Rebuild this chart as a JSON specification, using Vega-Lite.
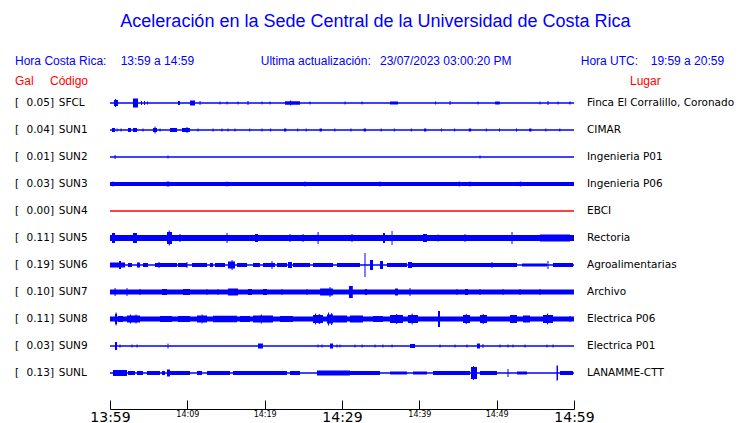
{
"$schema": "https://vega.github.io/schema/vega-lite/v6.json",
"width": 464, "height": 342,
"autosize": {"type": "none"},
"padding": {"left": 110, "top": 67, "right": 166, "bottom": 14},
"background": "white",
"config": {"view": {"stroke": null}, "axisY": {"disable": true}},
"datasets": {
"stations": [
{"code":"SFCL","n":0,"gal":0.05,"place":"Finca El Corralillo, Coronado"},
{"code":"SUN1","n":1,"gal":0.04,"place":"CIMAR"},
{"code":"SUN2","n":2,"gal":0.01,"place":"Ingenieria P01"},
{"code":"SUN3","n":3,"gal":0.03,"place":"Ingenieria P06"},
{"code":"SUN4","n":4,"gal":0.00,"place":"EBCI"},
{"code":"SUN5","n":5,"gal":0.11,"place":"Rectoria"},
{"code":"SUN6","n":6,"gal":0.19,"place":"Agroalimentarias"},
{"code":"SUN7","n":7,"gal":0.10,"place":"Archivo"},
{"code":"SUN8","n":8,"gal":0.11,"place":"Electrica P06"},
{"code":"SUN9","n":9,"gal":0.03,"place":"Electrica P01"},
{"code":"SUNL","n":10,"gal":0.13,"place":"LANAMME-CTT"}
],
"traces": [
{"s":"SFCL","t0":0,"t1":60,"a":1.5},
{"s":"SFCL","t0":0.52,"t1":1.03,"a":6},
{"s":"SFCL","t0":0.66,"t1":0.8,"a":8},
{"s":"SFCL","t0":2.97,"t1":3.62,"a":9},
{"s":"SFCL","t0":4.01,"t1":4.14,"a":4},
{"s":"SFCL","t0":4.4,"t1":4.53,"a":4},
{"s":"SFCL","t0":4.78,"t1":4.91,"a":3},
{"s":"SFCL","t0":8.79,"t1":9.05,"a":4},
{"s":"SFCL","t0":10.34,"t1":10.99,"a":5},
{"s":"SFCL","t0":11.58,"t1":11.7,"a":4},
{"s":"SFCL","t0":14.16,"t1":14.29,"a":3},
{"s":"SFCL","t0":15.07,"t1":15.2,"a":3},
{"s":"SFCL","t0":16.49,"t1":16.62,"a":3},
{"s":"SFCL","t0":17.78,"t1":17.91,"a":4},
{"s":"SFCL","t0":19.6,"t1":19.72,"a":3},
{"s":"SFCL","t0":20.63,"t1":20.75,"a":3},
{"s":"SFCL","t0":22.63,"t1":24.57,"a":3.5},
{"s":"SFCL","t0":23.3,"t1":23.43,"a":5},
{"s":"SFCL","t0":25.8,"t1":25.93,"a":3},
{"s":"SFCL","t0":30.33,"t1":30.46,"a":3},
{"s":"SFCL","t0":32.53,"t1":32.66,"a":3},
{"s":"SFCL","t0":36.21,"t1":37.24,"a":3},
{"s":"SFCL","t0":42.03,"t1":42.16,"a":3},
{"s":"SFCL","t0":43.91,"t1":44.03,"a":4},
{"s":"SFCL","t0":47.52,"t1":47.65,"a":3},
{"s":"SFCL","t0":49.8,"t1":50.4,"a":3},
{"s":"SFCL","t0":55.54,"t1":55.67,"a":3},
{"s":"SFCL","t0":56.57,"t1":56.7,"a":4},
{"s":"SFCL","t0":57.87,"t1":58.0,"a":3},
{"s":"SFCL","t0":59.4,"t1":59.55,"a":3},
{"s":"SUN1","t0":0,"t1":60,"a":1.5},
{"s":"SUN1","t0":0.26,"t1":0.65,"a":4},
{"s":"SUN1","t0":0.85,"t1":0.97,"a":3},
{"s":"SUN1","t0":1.36,"t1":1.49,"a":3},
{"s":"SUN1","t0":2.33,"t1":2.72,"a":4},
{"s":"SUN1","t0":2.97,"t1":3.49,"a":4},
{"s":"SUN1","t0":4.21,"t1":4.34,"a":3},
{"s":"SUN1","t0":5.56,"t1":6.08,"a":4},
{"s":"SUN1","t0":5.76,"t1":5.89,"a":7},
{"s":"SUN1","t0":6.41,"t1":6.53,"a":3},
{"s":"SUN1","t0":7.76,"t1":8.66,"a":4},
{"s":"SUN1","t0":9.31,"t1":10.34,"a":4},
{"s":"SUN1","t0":9.9,"t1":10.02,"a":6},
{"s":"SUN1","t0":11.32,"t1":11.45,"a":3},
{"s":"SUN1","t0":13.26,"t1":13.39,"a":3},
{"s":"SUN1","t0":14.41,"t1":14.54,"a":3},
{"s":"SUN1","t0":15.2,"t1":15.33,"a":3},
{"s":"SUN1","t0":16.1,"t1":16.23,"a":3},
{"s":"SUN1","t0":18.0,"t1":18.13,"a":3},
{"s":"SUN1","t0":19.6,"t1":19.73,"a":3},
{"s":"SUN1","t0":20.7,"t1":20.83,"a":3},
{"s":"SUN1","t0":22.5,"t1":22.8,"a":3},
{"s":"SUN1","t0":24.2,"t1":24.33,"a":3},
{"s":"SUN1","t0":25.3,"t1":25.43,"a":3},
{"s":"SUN1","t0":27.1,"t1":27.4,"a":3},
{"s":"SUN1","t0":29.0,"t1":29.13,"a":3},
{"s":"SUN1","t0":31.1,"t1":31.23,"a":3},
{"s":"SUN1","t0":32.8,"t1":33.1,"a":3},
{"s":"SUN1","t0":35.0,"t1":35.13,"a":3},
{"s":"SUN1","t0":36.7,"t1":36.83,"a":3},
{"s":"SUN1","t0":38.9,"t1":39.03,"a":3},
{"s":"SUN1","t0":40.6,"t1":40.9,"a":3},
{"s":"SUN1","t0":42.8,"t1":42.93,"a":3},
{"s":"SUN1","t0":44.5,"t1":44.63,"a":3},
{"s":"SUN1","t0":46.4,"t1":46.7,"a":3},
{"s":"SUN1","t0":48.6,"t1":48.73,"a":3},
{"s":"SUN1","t0":50.3,"t1":50.43,"a":3},
{"s":"SUN1","t0":52.5,"t1":52.63,"a":3},
{"s":"SUN1","t0":54.2,"t1":54.5,"a":3},
{"s":"SUN1","t0":56.3,"t1":56.43,"a":3},
{"s":"SUN1","t0":58.1,"t1":58.23,"a":3},
{"s":"SUN2","t0":0,"t1":60,"a":1.3},
{"s":"SUN2","t0":0.59,"t1":0.72,"a":4},
{"s":"SUN2","t0":7.44,"t1":7.56,"a":3},
{"s":"SUN2","t0":47.78,"t1":47.91,"a":3},
{"s":"SUN3","t0":0,"t1":60,"a":4},
{"s":"SUN3","t0":0.33,"t1":0.46,"a":5},
{"s":"SUN3","t0":7.44,"t1":7.56,"a":6},
{"s":"SUN3","t0":15.07,"t1":15.2,"a":5},
{"s":"SUN3","t0":25.16,"t1":25.29,"a":5},
{"s":"SUN3","t0":34.85,"t1":34.98,"a":5},
{"s":"SUN3","t0":45.1,"t1":45.23,"a":5},
{"s":"SUN3","t0":46.5,"t1":46.63,"a":5},
{"s":"SUN3","t0":53.0,"t1":53.13,"a":5},
{"s":"SUN4","t0":0,"t1":60,"a":1.3},
{"s":"SUN5","t0":0,"t1":60,"a":6},
{"s":"SUN5","t0":0.26,"t1":0.65,"a":10},
{"s":"SUN5","t0":2.97,"t1":3.49,"a":10},
{"s":"SUN5","t0":7.37,"t1":8.02,"a":12},
{"s":"SUN5","t0":7.6,"t1":7.73,"a":15},
{"s":"SUN5","t0":8.99,"t1":9.12,"a":8},
{"s":"SUN5","t0":15.07,"t1":15.2,"a":10},
{"s":"SUN5","t0":18.75,"t1":19.14,"a":8},
{"s":"SUN5","t0":23.22,"t1":23.34,"a":8},
{"s":"SUN5","t0":24.9,"t1":25.03,"a":8},
{"s":"SUN5","t0":26.84,"t1":26.97,"a":12},
{"s":"SUN5","t0":31.23,"t1":31.36,"a":8},
{"s":"SUN5","t0":35.3,"t1":35.56,"a":10},
{"s":"SUN5","t0":36.41,"t1":36.53,"a":14},
{"s":"SUN5","t0":40.47,"t1":40.99,"a":8},
{"s":"SUN5","t0":42.35,"t1":42.48,"a":7},
{"s":"SUN5","t0":45.85,"t1":45.97,"a":8},
{"s":"SUN5","t0":51.92,"t1":52.05,"a":12},
{"s":"SUN5","t0":55.6,"t1":59.5,"a":7},
{"s":"SUN6","t0":0,"t1":60,"a":1.5},
{"s":"SUN6","t0":0,"t1":1.94,"a":5},
{"s":"SUN6","t0":1.16,"t1":1.42,"a":8},
{"s":"SUN6","t0":2.33,"t1":2.84,"a":4},
{"s":"SUN6","t0":3.49,"t1":3.88,"a":5},
{"s":"SUN6","t0":4.27,"t1":4.91,"a":4},
{"s":"SUN6","t0":5.82,"t1":8.66,"a":4},
{"s":"SUN6","t0":6.28,"t1":6.41,"a":6},
{"s":"SUN6","t0":8.79,"t1":9.96,"a":4},
{"s":"SUN6","t0":9.9,"t1":10.02,"a":6},
{"s":"SUN6","t0":10.6,"t1":12.54,"a":4},
{"s":"SUN6","t0":12.93,"t1":13.32,"a":4},
{"s":"SUN6","t0":13.58,"t1":14.87,"a":4},
{"s":"SUN6","t0":15.26,"t1":16.16,"a":7},
{"s":"SUN6","t0":15.72,"t1":15.85,"a":10},
{"s":"SUN6","t0":16.42,"t1":17.72,"a":4},
{"s":"SUN6","t0":18.49,"t1":19.4,"a":4},
{"s":"SUN6","t0":19.78,"t1":21.34,"a":4},
{"s":"SUN6","t0":20.89,"t1":21.01,"a":8},
{"s":"SUN6","t0":21.59,"t1":22.89,"a":4},
{"s":"SUN6","t0":23.02,"t1":23.53,"a":6},
{"s":"SUN6","t0":23.66,"t1":25.86,"a":4},
{"s":"SUN6","t0":26.25,"t1":28.84,"a":4},
{"s":"SUN6","t0":29.35,"t1":32.33,"a":4},
{"s":"SUN6","t0":32.91,"t1":33.04,"a":24},
{"s":"SUN6","t0":33.62,"t1":34.01,"a":10},
{"s":"SUN6","t0":34.91,"t1":35.3,"a":8},
{"s":"SUN6","t0":35.82,"t1":38.4,"a":4},
{"s":"SUN6","t0":38.53,"t1":39.05,"a":6},
{"s":"SUN6","t0":39.05,"t1":48.75,"a":4},
{"s":"SUN6","t0":49.34,"t1":49.46,"a":6},
{"s":"SUN6","t0":48.75,"t1":52.63,"a":4},
{"s":"SUN6","t0":53.28,"t1":56.51,"a":3},
{"s":"SUN6","t0":56.57,"t1":56.7,"a":8},
{"s":"SUN6","t0":57.28,"t1":59.87,"a":4},
{"s":"SUN7","t0":0,"t1":60,"a":5},
{"s":"SUN7","t0":0.59,"t1":0.72,"a":8},
{"s":"SUN7","t0":2.14,"t1":2.26,"a":8},
{"s":"SUN7","t0":3.82,"t1":3.95,"a":6},
{"s":"SUN7","t0":6.72,"t1":7.37,"a":6},
{"s":"SUN7","t0":9.44,"t1":10.34,"a":6},
{"s":"SUN7","t0":12.48,"t1":12.6,"a":6},
{"s":"SUN7","t0":13.91,"t1":14.03,"a":6},
{"s":"SUN7","t0":15.26,"t1":16.55,"a":7},
{"s":"SUN7","t0":17.84,"t1":18.36,"a":6},
{"s":"SUN7","t0":19.78,"t1":20.3,"a":6},
{"s":"SUN7","t0":22.18,"t1":22.3,"a":6},
{"s":"SUN7","t0":25.41,"t1":25.54,"a":6},
{"s":"SUN7","t0":27.16,"t1":28.84,"a":7},
{"s":"SUN7","t0":28.39,"t1":28.52,"a":10},
{"s":"SUN7","t0":30.9,"t1":31.4,"a":12},
{"s":"SUN7","t0":32.97,"t1":33.23,"a":6},
{"s":"SUN7","t0":36.85,"t1":37.24,"a":7},
{"s":"SUN7","t0":38.73,"t1":38.86,"a":8},
{"s":"SUN7","t0":44.81,"t1":44.93,"a":6},
{"s":"SUN7","t0":45.91,"t1":46.29,"a":6},
{"s":"SUN7","t0":47.78,"t1":47.91,"a":6},
{"s":"SUN7","t0":50.76,"t1":50.89,"a":6},
{"s":"SUN7","t0":52.96,"t1":53.08,"a":6},
{"s":"SUN7","t0":55.54,"t1":55.67,"a":6},
{"s":"SUN8","t0":0,"t1":60,"a":5},
{"s":"SUN8","t0":0.65,"t1":0.91,"a":10},
{"s":"SUN8","t0":0.72,"t1":0.85,"a":13},
{"s":"SUN8","t0":1.03,"t1":1.68,"a":6},
{"s":"SUN8","t0":2.2,"t1":3.88,"a":7},
{"s":"SUN8","t0":2.6,"t1":2.73,"a":9},
{"s":"SUN8","t0":3.3,"t1":3.43,"a":9},
{"s":"SUN8","t0":6.47,"t1":8.02,"a":6},
{"s":"SUN8","t0":8.79,"t1":10.34,"a":6},
{"s":"SUN8","t0":11.25,"t1":12.54,"a":7},
{"s":"SUN8","t0":11.84,"t1":11.97,"a":9},
{"s":"SUN8","t0":13.32,"t1":16.42,"a":6.5},
{"s":"SUN8","t0":16.81,"t1":18.1,"a":6},
{"s":"SUN8","t0":18.49,"t1":21.08,"a":7},
{"s":"SUN8","t0":19.5,"t1":19.63,"a":9},
{"s":"SUN8","t0":21.98,"t1":23.66,"a":6},
{"s":"SUN8","t0":26.25,"t1":27.54,"a":8},
{"s":"SUN8","t0":26.5,"t1":26.63,"a":11},
{"s":"SUN8","t0":27.0,"t1":27.13,"a":10},
{"s":"SUN8","t0":28.06,"t1":28.84,"a":9},
{"s":"SUN8","t0":28.2,"t1":28.33,"a":13},
{"s":"SUN8","t0":28.6,"t1":28.73,"a":12},
{"s":"SUN8","t0":28.84,"t1":30.65,"a":7},
{"s":"SUN8","t0":31.03,"t1":32.72,"a":7},
{"s":"SUN8","t0":34.01,"t1":35.3,"a":6},
{"s":"SUN8","t0":36.21,"t1":37.89,"a":8},
{"s":"SUN8","t0":37.0,"t1":37.13,"a":10},
{"s":"SUN8","t0":38.53,"t1":39.83,"a":8},
{"s":"SUN8","t0":39.0,"t1":39.13,"a":11},
{"s":"SUN8","t0":42.41,"t1":42.67,"a":16},
{"s":"SUN8","t0":45.65,"t1":46.55,"a":8},
{"s":"SUN8","t0":46.0,"t1":46.13,"a":10},
{"s":"SUN8","t0":47.84,"t1":48.75,"a":8},
{"s":"SUN8","t0":48.2,"t1":48.33,"a":10},
{"s":"SUN8","t0":51.72,"t1":52.63,"a":8},
{"s":"SUN8","t0":53.41,"t1":54.31,"a":7},
{"s":"SUN8","t0":55.99,"t1":57.28,"a":8},
{"s":"SUN8","t0":56.5,"t1":56.63,"a":11},
{"s":"SUN8","t0":59.42,"t1":59.55,"a":6},
{"s":"SUN9","t0":0,"t1":60,"a":1.5},
{"s":"SUN9","t0":0.65,"t1":0.91,"a":8},
{"s":"SUN9","t0":1.23,"t1":1.36,"a":3},
{"s":"SUN9","t0":2.78,"t1":2.91,"a":3},
{"s":"SUN9","t0":3.43,"t1":3.56,"a":3},
{"s":"SUN9","t0":7.44,"t1":7.56,"a":5},
{"s":"SUN9","t0":19.14,"t1":19.78,"a":5},
{"s":"SUN9","t0":26.84,"t1":26.97,"a":3},
{"s":"SUN9","t0":27.35,"t1":27.48,"a":3},
{"s":"SUN9","t0":28.45,"t1":28.84,"a":5},
{"s":"SUN9","t0":29.29,"t1":29.42,"a":3},
{"s":"SUN9","t0":29.68,"t1":29.8,"a":3},
{"s":"SUN9","t0":31.62,"t1":31.74,"a":3},
{"s":"SUN9","t0":32.53,"t1":32.66,"a":3},
{"s":"SUN9","t0":34.21,"t1":34.33,"a":3},
{"s":"SUN9","t0":35.24,"t1":35.36,"a":3},
{"s":"SUN9","t0":36.41,"t1":36.53,"a":3},
{"s":"SUN9","t0":38.79,"t1":39.44,"a":4},
{"s":"SUN9","t0":42.61,"t1":42.74,"a":3},
{"s":"SUN9","t0":44.55,"t1":44.68,"a":3},
{"s":"SUN9","t0":46.1,"t1":46.23,"a":3},
{"s":"SUN9","t0":47.46,"t1":47.84,"a":5},
{"s":"SUN9","t0":48.17,"t1":48.29,"a":4},
{"s":"SUN9","t0":50.37,"t1":50.5,"a":3},
{"s":"SUN9","t0":51.4,"t1":51.53,"a":3},
{"s":"SUN9","t0":52.05,"t1":52.17,"a":3},
{"s":"SUN9","t0":53.6,"t1":53.73,"a":3},
{"s":"SUN9","t0":56.45,"t1":56.57,"a":3},
{"s":"SUN9","t0":57.22,"t1":57.35,"a":3},
{"s":"SUNL","t0":0,"t1":60,"a":1.5},
{"s":"SUNL","t0":0.39,"t1":2.2,"a":6},
{"s":"SUNL","t0":2.33,"t1":3.23,"a":4},
{"s":"SUNL","t0":3.49,"t1":4.27,"a":4},
{"s":"SUNL","t0":4.78,"t1":6.47,"a":4},
{"s":"SUNL","t0":6.72,"t1":7.11,"a":4},
{"s":"SUNL","t0":7.37,"t1":7.76,"a":7},
{"s":"SUNL","t0":7.76,"t1":10.34,"a":4},
{"s":"SUNL","t0":11.25,"t1":11.9,"a":4},
{"s":"SUNL","t0":12.54,"t1":15.52,"a":4},
{"s":"SUNL","t0":15.9,"t1":22.89,"a":4},
{"s":"SUNL","t0":23.28,"t1":24.57,"a":4},
{"s":"SUNL","t0":26.77,"t1":31.03,"a":5},
{"s":"SUNL","t0":31.03,"t1":34.91,"a":4},
{"s":"SUNL","t0":36.21,"t1":38.4,"a":3},
{"s":"SUNL","t0":39.18,"t1":40.99,"a":3},
{"s":"SUNL","t0":41.77,"t1":46.55,"a":4},
{"s":"SUNL","t0":46.68,"t1":47.46,"a":12},
{"s":"SUNL","t0":46.95,"t1":47.08,"a":14},
{"s":"SUNL","t0":47.84,"t1":50.04,"a":4},
{"s":"SUNL","t0":51.4,"t1":51.53,"a":8},
{"s":"SUNL","t0":52.63,"t1":53.92,"a":3},
{"s":"SUNL","t0":57.74,"t1":57.93,"a":15},
{"s":"SUNL","t0":58.19,"t1":59.87,"a":4}
]
},
"layer": [
{
"data": {"name": "traces"},
"transform": [{"lookup": "s", "from": {"data": {"name": "stations"}, "key": "code", "fields": ["n"]}}],
"mark": {"type": "bar", "orient": "horizontal"},
"encoding": {
"x": {"field": "t0", "type": "quantitative", "scale": {"domain": [0, 60], "nice": false, "zero": false, "padding": 0},
"axis": {"title": null, "values": [0,5,10,15,20,25,30,35,40,45,50,55,60], "grid": false,
"domainColor": "black", "domainWidth": 1, "tickColor": "black", "tickWidth": 1, "tickSize": -9,
"labelPadding": 10, "labelBaseline": "top", "labelOverlap": false, "labelFlush": false, "labelColor": "black",
"labelFont": "DejaVu Sans",
"labelFontSize": {"condition": {"test": "datum.value % 30 === 0", "value": 14}, "value": 8},
"labelExpr": "datum.value % 10 === 0 ? (floor((839 + datum.value) / 60) + ':' + ((839 + datum.value) % 60 < 10 ? '0' : '') + ((839 + datum.value) % 60)) : ''"}},
"x2": {"field": "t1"},
"y": {"field": "n", "type": "quantitative", "scale": {"domain": [-1.3333, 11.3333], "reverse": true, "nice": false, "zero": false, "padding": 0}},
"size": {"field": "a", "type": "quantitative", "scale": {"type": "linear", "domain": [0, 30], "range": [0, 30]}, "legend": null},
"color": {"condition": {"test": "datum.s === 'SUN4'", "value": "#ff0000"}, "value": "#0000ff"}
}
},
{
"data": {"name": "stations"},
"mark": {"type": "text", "align": "left", "baseline": "middle", "font": "DejaVu Sans", "fontSize": 10.5, "color": "black"},
"encoding": {"x": {"datum": -12.28}, "y": {"field": "n", "type": "quantitative"}, "text": {"value": "["}}
},
{
"data": {"name": "stations"},
"mark": {"type": "text", "align": "right", "baseline": "middle", "font": "DejaVu Sans", "fontSize": 10.5, "color": "black"},
"encoding": {"x": {"datum": -7.77}, "y": {"field": "n", "type": "quantitative"}, "text": {"field": "gal", "type": "quantitative", "format": ".2f"}}
},
{
"data": {"name": "stations"},
"mark": {"type": "text", "align": "left", "baseline": "middle", "font": "DejaVu Sans", "fontSize": 10.5, "color": "black"},
"encoding": {"x": {"datum": -7.77}, "y": {"field": "n", "type": "quantitative"}, "text": {"value": "]"}}
},
{
"data": {"name": "stations"},
"mark": {"type": "text", "align": "left", "baseline": "middle", "font": "DejaVu Sans", "fontSize": 10.5, "color": "black"},
"encoding": {"x": {"datum": -6.63}, "y": {"field": "n", "type": "quantitative"}, "text": {"field": "code", "type": "nominal"}}
},
{
"data": {"name": "stations"},
"mark": {"type": "text", "align": "left", "baseline": "middle", "font": "DejaVu Sans", "fontSize": 10.5, "color": "black"},
"encoding": {"x": {"datum": 61.68}, "y": {"field": "n", "type": "quantitative"}, "text": {"field": "place", "type": "nominal"}}
},
{
"data": {"values": [{}]},
"mark": {"type": "text", "align": "center", "baseline": "middle", "font": "Liberation Sans", "fontSize": 18, "color": "#0000ff"},
"encoding": {"x": {"datum": 34.33}, "y": {"datum": -3.0}, "text": {"value": "Aceleración en la Sede Central de la Universidad de Costa Rica"}}
},
{
"data": {"values": [{}]},
"mark": {"type": "text", "align": "left", "baseline": "middle", "font": "Liberation Sans", "fontSize": 12, "color": "#0000ff"},
"encoding": {"x": {"datum": -12.28}, "y": {"datum": -1.574}, "text": {"value": "Hora Costa Rica:"}}
},
{
"data": {"values": [{}]},
"mark": {"type": "text", "align": "left", "baseline": "middle", "font": "Liberation Sans", "fontSize": 12, "color": "#0000ff"},
"encoding": {"x": {"datum": 1.38}, "y": {"datum": -1.574}, "text": {"value": "13:59 a 14:59"}}
},
{
"data": {"values": [{}]},
"mark": {"type": "text", "align": "left", "baseline": "middle", "font": "Liberation Sans", "fontSize": 12, "color": "#0000ff"},
"encoding": {"x": {"datum": 19.49}, "y": {"datum": -1.574}, "text": {"value": "Ultima actualización:"}}
},
{
"data": {"values": [{}]},
"mark": {"type": "text", "align": "left", "baseline": "middle", "font": "Liberation Sans", "fontSize": 12, "color": "#0000ff"},
"encoding": {"x": {"datum": 34.91}, "y": {"datum": -1.574}, "text": {"value": "23/07/2023 03:00:20 PM"}}
},
{
"data": {"values": [{}]},
"mark": {"type": "text", "align": "left", "baseline": "middle", "font": "Liberation Sans", "fontSize": 12, "color": "#0000ff"},
"encoding": {"x": {"datum": 60.87}, "y": {"datum": -1.574}, "text": {"value": "Hora UTC:"}}
},
{
"data": {"values": [{}]},
"mark": {"type": "text", "align": "left", "baseline": "middle", "font": "Liberation Sans", "fontSize": 12, "color": "#0000ff"},
"encoding": {"x": {"datum": 69.92}, "y": {"datum": -1.574}, "text": {"value": "19:59 a 20:59"}}
},
{
"data": {"values": [{}]},
"mark": {"type": "text", "align": "left", "baseline": "middle", "font": "Liberation Sans", "fontSize": 12, "color": "#ff0000"},
"encoding": {"x": {"datum": -12.28}, "y": {"datum": -0.826}, "text": {"value": "Gal"}}
},
{
"data": {"values": [{}]},
"mark": {"type": "text", "align": "left", "baseline": "middle", "font": "Liberation Sans", "fontSize": 12, "color": "#ff0000"},
"encoding": {"x": {"datum": -7.76}, "y": {"datum": -0.826}, "text": {"value": "Código"}}
},
{
"data": {"values": [{}]},
"mark": {"type": "text", "align": "left", "baseline": "middle", "font": "Liberation Sans", "fontSize": 12, "color": "#ff0000"},
"encoding": {"x": {"datum": 67.24}, "y": {"datum": -0.826}, "text": {"value": "Lugar"}}
}
]
}
